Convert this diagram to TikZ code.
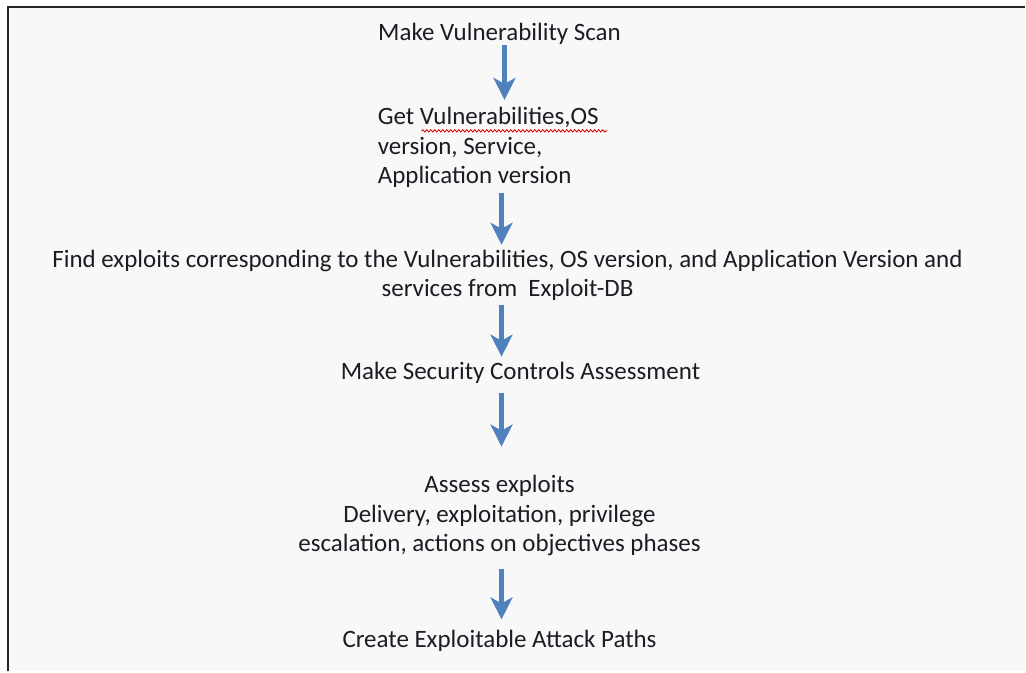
\documentclass[tikz,border=0pt]{standalone}
\usepackage{fontspec}
\setmainfont{Carlito}
\usetikzlibrary{arrows.meta,decorations.pathmorphing}
\definecolor{flowblue}{HTML}{4F81BD}
\definecolor{pagebg}{HTML}{F8F8F8}
\definecolor{ink}{HTML}{1C1C24}
\tikzset{
  steptext/.style={inner sep=0pt, text=ink, font=\fontsize{25}{29.5}\selectfont},
  flow/.style={draw=flowblue, line width=5pt,
    -{Stealth[length=22pt, width=22pt, inset=6pt]}},
}
\begin{document}
\begin{tikzpicture}[x=1pt, y=-1pt]
  % page and frame
  \fill[white] (0,0) rectangle (1026,672);
  \fill[pagebg] (8,7) rectangle (1026,672);
  \draw[line width=2pt, black!85] (8,672) -- (8,7) -- (1026,7);
  \useasboundingbox (0,0) rectangle (1026,672);

  % steps (multi-line nodes are placed by the baseline of their last line)
  \node[steptext, anchor=base] (scan) at (500,41) {Make Vulnerability Scan};
  \node[steptext, anchor=base west, align=left] (get) at (378,184)
    {Get Vulnerabilities,OS\\ version, Service,\\ Application version};
  \node[steptext, anchor=base, align=center] (find) at (508,297)
    {Find exploits corresponding to the Vulnerabilities, OS version, and Application Version and\\ services from\ \ Exploit-DB};
  \node[steptext, anchor=base] (sca) at (521,380) {Make Security Controls Assessment};
  \node[steptext, anchor=base, align=center] (assess) at (500,552)
    {Assess exploits\\ Delivery, exploitation, privilege\\ escalation, actions on objectives phases};
  \node[steptext, anchor=base] (paths) at (500,648) {Create Exploitable Attack Paths};

  % spell-check underline
  \coordinate (wl) at (422,131);
  \coordinate (wr) at (608,131);
  \draw[red!85!black, line width=0.8pt, decorate,
        decoration={snake, amplitude=1.2pt, segment length=4pt}] (wl) -- (wr);

  % arrow end points
  \coordinate (a1s) at (505,45);  \coordinate (a1e) at (505,100);
  \coordinate (a2s) at (502,193); \coordinate (a2e) at (502,245);
  \coordinate (a3s) at (502,305); \coordinate (a3e) at (502,357);
  \coordinate (a4s) at (502,393); \coordinate (a4e) at (502,447);
  \coordinate (a5s) at (502,570); \coordinate (a5e) at (502,620);

  \draw[flow] (a1s) -- (a1e);
  \draw[flow] (a2s) -- (a2e);
  \draw[flow] (a3s) -- (a3e);
  \draw[flow] (a4s) -- (a4e);
  \draw[flow] (a5s) -- (a5e);
\end{tikzpicture}
\end{document}
